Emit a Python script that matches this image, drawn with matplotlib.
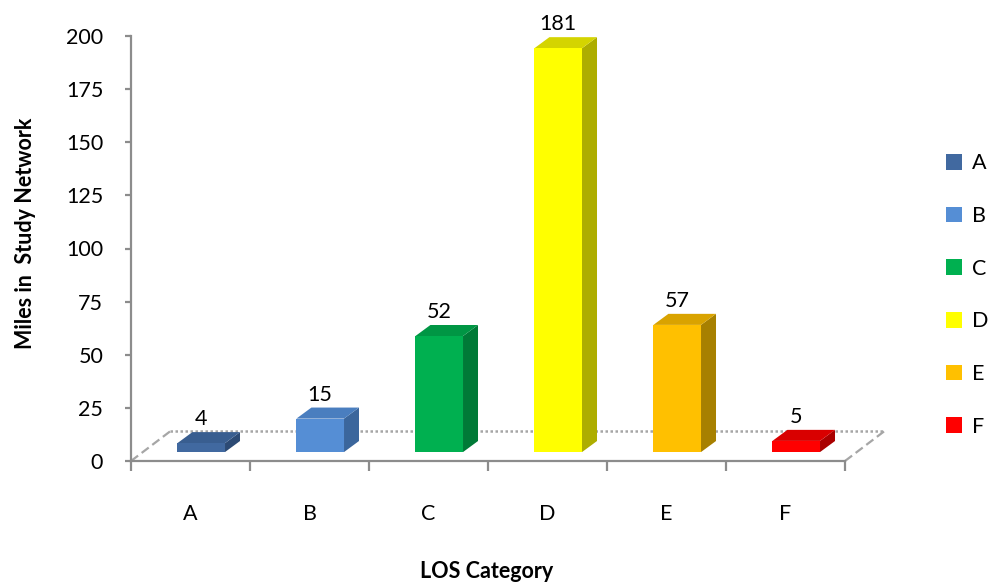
import matplotlib
matplotlib.use("Agg")
import matplotlib.pyplot as plt
from matplotlib.patches import Polygon, Rectangle, Patch

plt.rcParams['font.family'] = ['Lato', 'DejaVu Sans']

categories = ["A", "B", "C", "D", "E", "F"]
miles = [4, 15, 52, 181, 57, 5]
front_colors = ["#4169A0", "#558ED5", "#00B050", "#FFFF00", "#FFC000", "#FF0000"]
top_colors = ["#395E90", "#4A7EBF", "#009644", "#D4D400", "#D9A300", "#D90000"]
side_colors = ["#2C4A74", "#3B669C", "#007A37", "#ADAD00", "#A78000", "#AA0000"]
y_ticks = [0, 25, 50, 75, 100, 125, 150, 175, 200]

# pseudo-3D projection parameters (data units)
BAR_W = 0.40
BAR_OFFSET = 0.09
DEPTH_X = 0.126
DEPTH_Y = 5.2
BAR_BASE = 4.2
BAR_SCALE = 1.05
FLOOR_DX = 0.33
FLOOR_DY = 14.0

FS = 15.5

W, H = 988, 587
fig = plt.figure(figsize=(W / 100, H / 100), dpi=100)
ax = fig.add_axes([131 / W, (H - 461) / H, (845 - 131) / W, (461 - 36) / H])
ax.set_xlim(0, len(categories))
ax.set_ylim(0, 200)

axis_gray = "#8C8C8C"
for s in ["top", "right"]:
    ax.spines[s].set_visible(False)
for s in ["left", "bottom"]:
    ax.spines[s].set_color(axis_gray)
    ax.spines[s].set_linewidth(1.6)

ax.set_yticks(y_ticks)
ax.set_yticklabels([str(t) for t in y_ticks], fontsize=FS)
ax.tick_params(axis="y", direction="out", length=4, width=1.6, color=axis_gray, pad=16)

ax.set_xticks(range(len(categories) + 1))
ax.set_xticklabels([])
ax.tick_params(axis="x", which="major", direction="out", length=7, width=1.6, color=axis_gray)
ax.set_xticks([i + 0.5 for i in range(len(categories))], minor=True)
ax.set_xticklabels(categories, minor=True, fontsize=FS)
ax.tick_params(axis="x", which="minor", length=0, pad=31)

# floor outline (back and side edges)
n = len(categories)
floor_kw = dict(color="#A6A6A6", lw=1.8, ls=(0, (1, 1)), clip_on=False, zorder=1)
ax.plot([FLOOR_DX, n + FLOOR_DX], [FLOOR_DY, FLOOR_DY], **floor_kw)
ax.plot([0, FLOOR_DX], [0, FLOOR_DY], color="#A6A6A6", lw=1.6, ls=(0, (4, 2)), clip_on=False, zorder=1)
ax.plot([n, n + FLOOR_DX], [0, FLOOR_DY], color="#A6A6A6", lw=1.6, ls=(0, (4, 2)), clip_on=False, zorder=1)

# bars
for i, (v, fc, tc, sc) in enumerate(zip(miles, front_colors, top_colors, side_colors)):
    x0 = i + 0.5 + BAR_OFFSET - BAR_W / 2
    x1 = x0 + BAR_W
    y0 = BAR_BASE
    y1 = BAR_BASE + v * BAR_SCALE
    side = Polygon([(x1, y0), (x1 + DEPTH_X, y0 + DEPTH_Y), (x1 + DEPTH_X, y1 + DEPTH_Y), (x1, y1)],
                   closed=True, facecolor=sc, edgecolor="none", clip_on=False, zorder=3)
    top = Polygon([(x0, y1), (x1, y1), (x1 + DEPTH_X, y1 + DEPTH_Y), (x0 + DEPTH_X, y1 + DEPTH_Y)],
                  closed=True, facecolor=tc, edgecolor="none", clip_on=False, zorder=3)
    front = Rectangle((x0, y0), BAR_W, y1 - y0, facecolor=fc, edgecolor="none", clip_on=False, zorder=4)
    ax.add_patch(side)
    ax.add_patch(top)
    ax.add_patch(front)
    ax.annotate(str(v), xy=(x0 + BAR_W / 2, y1 + DEPTH_Y), xytext=(0, 2), textcoords="offset points",
                ha="center", va="bottom", fontsize=FS, annotation_clip=False, zorder=5)

fig.text(25 / W, 1 - 233 / H, "Miles in  Study Network", rotation=90, ha="center", va="center",
         fontsize=FS, fontweight="bold")
fig.text(487 / W, 1 - 571 / H, "LOS Category", ha="center", va="center", fontsize=FS, fontweight="bold")

handles = [Patch(facecolor=c, edgecolor="none") for c in front_colors]
fig.legend(handles, categories, loc="center left", bbox_to_anchor=(946 / W, 1 - 295 / H),
           frameon=False, fontsize=FS, borderpad=0, borderaxespad=0, handlelength=0.75,
           handleheight=0.75, handletextpad=0.45, labelspacing=1.52)

fig.savefig("out.png", dpi=100)
